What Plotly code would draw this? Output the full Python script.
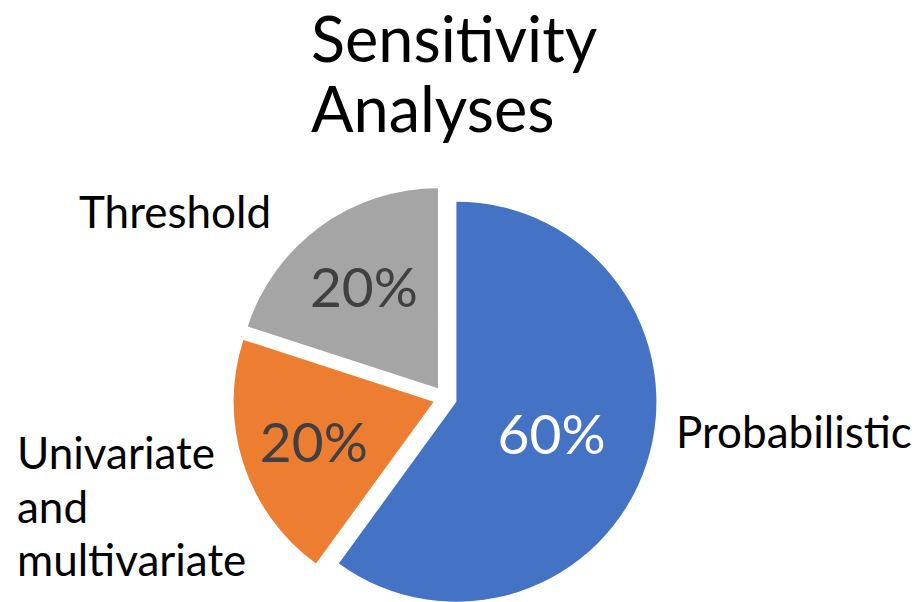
import plotly.graph_objects as go

# data
categories = ["Probabilistic", "Univariate and multivariate", "Threshold"]
shares = [60, 20, 20]
colors = ["#4472C4", "#ED7D31", "#A5A5A5"]
pct_colors = ["#FFFFFF", "#404040", "#404040"]

FONT = "Lato"

fig = go.Figure()

fig.add_trace(
    go.Pie(
        labels=categories,
        values=shares,
        sort=False,
        direction="clockwise",
        rotation=0,
        pull=[0.06, 0.06, 0.06],
        marker=dict(colors=colors, line=dict(width=0)),
        textinfo="percent",
        textposition="inside",
        insidetextorientation="horizontal",
        textfont=dict(family=FONT, size=55, color=pct_colors),
        domain=dict(x=[0.2413, 0.7087], y=[0, 0.7043]),
        showlegend=False,
        hoverinfo="label+percent",
    )
)

# title, left aligned lines like the original
title_lines = ["Sensitivity", "Analyses"]
title_y = [0.951, 0.834]
for line, y in zip(title_lines, title_y):
    fig.add_annotation(
        text=line, x=301 / 920, y=y, xref="paper", yref="paper",
        xanchor="left", yanchor="middle", showarrow=False,
        font=dict(family=FONT, size=63, color="black"),
    )

# category labels outside the slices
label_font = dict(family=FONT, size=44, color="black")
fig.add_annotation(text="Probabilistic", x=666 / 920, y=0.297, xref="paper", yref="paper",
                   xanchor="left", yanchor="middle", showarrow=False, font=label_font)
fig.add_annotation(text="Threshold", x=69 / 920, y=0.662, xref="paper", yref="paper",
                   xanchor="left", yanchor="middle", showarrow=False, font=label_font)
uni_lines = ["Univariate", "and", "multivariate"]
uni_y = [0.262, 0.172, 0.085]
for line, y in zip(uni_lines, uni_y):
    fig.add_annotation(text=line, x=7 / 920, y=y, xref="paper", yref="paper",
                       xanchor="left", yanchor="middle", showarrow=False, font=label_font)

fig.update_layout(
    width=920,
    height=602,
    margin=dict(l=0, r=0, t=0, b=0),
    paper_bgcolor="white",
    plot_bgcolor="white",
)

fig.write_html("out.html")
